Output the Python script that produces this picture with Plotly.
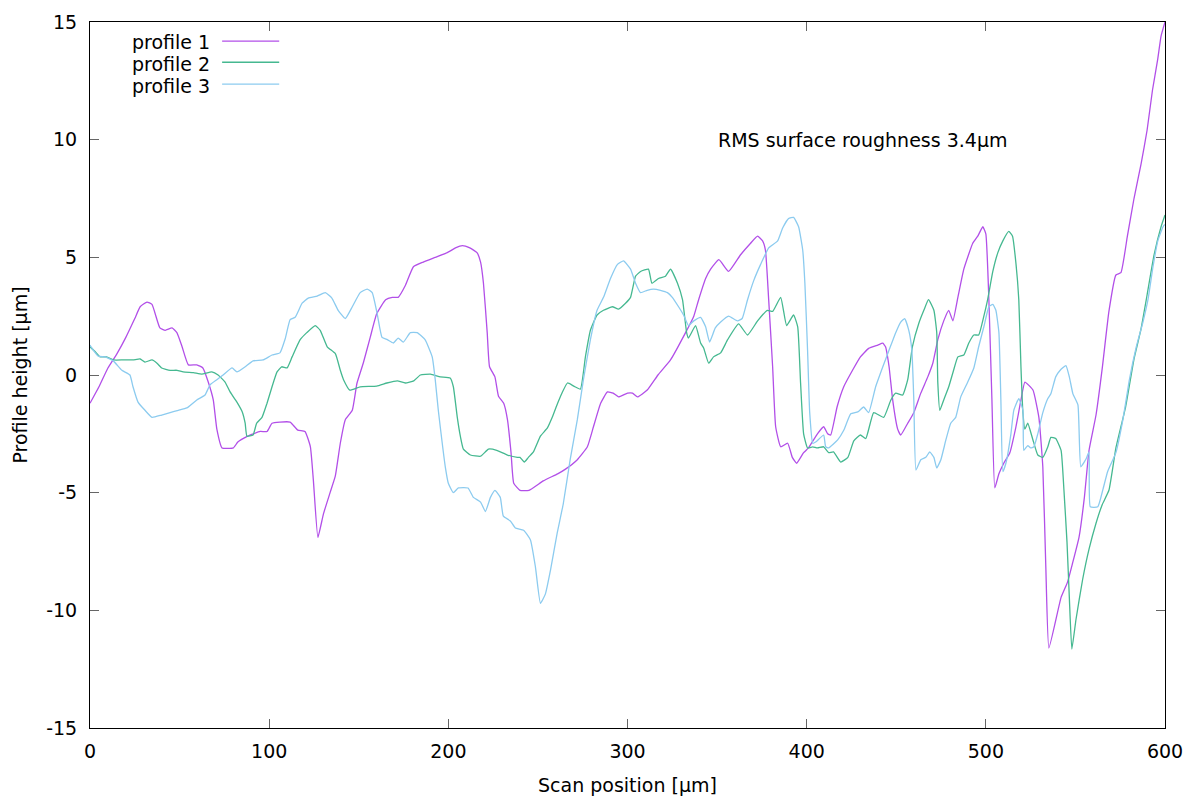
import plotly.graph_objects as go

# ---- data ----
profile1 = [(0,-1.2),(5,-0.5),(10,0.3),(15,0.9),(20,1.6),(25,2.4),(28,2.9),(31.8,3.1),(34.6,3.0),(39,2.0),
            (42,1.9),(45.8,2.0),(48.5,1.8),(51.4,1.2),(54.9,0.43),(59.6,0.43),(63,0.3),(66,-0.3),(68.8,-1.06),
            (70.8,-2.3),(73.7,-3.1),(80,-3.1),(82.5,-2.85),(88,-2.6),(95,-2.4),(98.8,-2.4),(101.6,-2.05),
            (106,-2.0),(111.7,-2.0),(116,-2.34),(120,-2.4),(123,-3.05),(124.7,-4.5),(127.2,-6.9),(130.3,-5.9),
            (134,-5.0),(136.9,-4.3),(139.7,-2.9),(142.5,-1.9),(146.4,-1.5),(149,-0.35),(152.5,0.5),(156.4,1.6),
            (160,2.6),(165,3.2),(168.7,3.3),(172,3.3),(176,3.8),(180.5,4.6),(186,4.8),(192.7,5.0),(199.4,5.2),
            (204,5.4),(207.8,5.5),(212,5.4),(216,5.2),(218,4.8),(219.6,3.9),(221.7,1.8),(223,0.35),(226,-0.08),
            (228,-0.9),(230.9,-1.2),(233,-1.9),(235,-3.3),(236.5,-4.6),(240,-4.9),(245,-4.9),(253,-4.5),
            (261,-4.2),(265.4,-4.0),(272,-3.6),(277.6,-3.05),(281,-2.2),(285,-1.2),(288.8,-0.72),(292,-0.77),
            (295,-0.93),(300,-0.77),(302.8,-0.77),(305.6,-0.93),(311,-0.64),(317,0.0),(324,0.64),(332.4,1.8),
            (337,2.5),(339.7,3.2),(343.6,4.1),(346.4,4.5),(351,4.9),(356.4,4.4),(363,5.1),(368.7,5.6),
            (372.6,5.9),(375.4,5.7),(377,5.3),(378.8,3.2),(381,0.35),(382.7,-2.2),(385.5,-3.05),(389.4,-2.9),
            (392,-3.5),(394.4,-3.75),(398.3,-3.3),(401,-3.1),(406,-2.5),(409.5,-2.2),(411.7,-2.5),(413.4,-2.55),
            (417,-1.35),(420.7,-0.5),(425.6,0.2),(430,0.77),(434.6,1.13),(439.7,1.27),(442.5,1.35),(444,1.2),
            (446,0.35),(448,-1.06),(450.8,-2.3),(452.5,-2.55),(456.4,-2.05),(459.8,-1.6),(463.7,-0.77),
            (467.6,-0.08),(470.4,0.5),(473.2,1.5),(476.5,2.3),(479.3,2.75),(481.6,2.3),(484.4,3.3),(487.7,4.5),
            (492.7,5.6),(495.5,5.9),(498.3,6.3),(500,6.0),(501.7,3.2),(503.4,-1.06),(505,-4.8),(507.3,-4.2),
            (510,-3.75),(513.4,-3.3),(516.8,-2.2),(519.6,-1.06),(521.8,-0.3),(526.3,-0.64),(529.6,-1.8),
            (531.8,-3.9),(533.5,-8.2),(535.2,-11.6),(542,-9.45),(545.6,-8.8),(548.4,-8.0),(552,-6.9),(555,-5.2),
            (557.6,-3.2),(561.5,-1.7),(565,0.3),(568.7,2.7),(572.6,4.25),(575.4,4.35),(579,5.9),(582.7,7.5),
            (586.6,8.95),(590,10.4),(593,12.1),(595.9,13.4),(597.8,14.4),(600,15.0)]

profile2 = [(0,1.2),(2.8,1.0),(5.6,0.77),(9.3,0.77),(13,0.64),(18.6,0.64),(24,0.64),(28,0.68),(30.7,0.55),
            (34.6,0.64),(37.4,0.5),(40,0.3),(44.7,0.2),(48.6,0.2),(52,0.13),(57.7,0.1),(62.4,0.04),(68,0.13),
            (71.5,0),(75.4,-0.3),(78.2,-0.72),(82,-1.15),(85,-1.57),(86.6,-2.05),(87.6,-2.6),(91,-2.55),
            (93,-2.05),(96,-1.8),(98.8,-1.2),(101.6,-0.5),(104.4,0.13),(107,0.35),(110,0.3),(112.8,0.77),
            (117.3,1.5),(121,1.8),(125.7,2.1),(128.5,1.9),(132.4,1.2),(137,0.9),(139.7,0.2),(141.5,-0.2),
            (145,-0.64),(150.8,-0.5),(160,-0.47),(165.7,-0.34),(171.5,-0.25),(176,-0.34),(180.7,-0.25),
            (184.4,0),(190,0.04),(195.5,-0.08),(201,-0.13),(202.8,-0.5),(205,-1.8),(206.7,-2.6),(208.4,-3.15),
            (212.3,-3.4),(218,-3.45),(222.4,-3.15),(227,-3.2),(233,-3.4),(238.5,-3.5),(240,-3.5),(242.4,-3.7),
            (244.7,-3.5),(247.5,-3.27),(251.4,-2.6),(255.3,-2.25),(258,-1.8),(261,-1.2),(263.7,-0.72),
            (266.5,-0.34),(270,-0.47),(273.7,-0.6),(276.5,0.77),(279.3,1.9),(283,2.55),(286.6,2.75),
            (291.6,2.9),(295,2.8),(298.9,3.05),(301.7,3.3),(304.5,4.2),(307.3,4.4),(311.7,4.5),(313.6,3.9),
            (317.3,4.1),(321.2,4.2),(324,4.5),(327.9,3.9),(330.7,3.2),(333,1.8),(334,1.57),(338,2.1),
            (340.8,1.36),(342.5,1.15),(345.3,0.5),(348,0.77),(352,0.94),(355.9,1.5),(362,2.17),(367,1.7),
            (372.6,2.3),(378,2.75),(381,2.7),(385.5,3.3),(388.8,2.1),(392.7,2.55),(395,2.05),(396.6,-0.34),
            (398.3,-2.5),(400.5,-3.1),(403.4,-3.05),(406,-3.1),(409.5,-3.05),(412.3,-3.3),(415,-3.27),
            (419,-3.7),(423,-3.5),(426.3,-2.8),(430,-2.55),(433,-2.7),(437.4,-1.6),(443,-1.8),(447,-1.06),
            (449.7,-0.77),(453.6,-0.85),(456.4,-0.2),(459,1.2),(462.6,2.2),(465.4,2.75),(468,3.2),(471,2.75),
            (472.6,1.8),(473.2,-0.34),(474.3,-1.5),(476.5,-1.06),(479.3,-0.5),(482,0.2),(484.4,0.77),
            (487.7,0.85),(490.5,1.36),(493.3,1.7),(496,1.7),(498.9,2.5),(501,3.2),(503.9,4.4),(506.7,5.2),
            (509.5,5.7),(512.8,6.1),(514.9,5.9),(516.8,4.75),(518.4,3.2),(519.6,0.35),(520.7,-1.6),
            (521.8,-2.3),(523.4,-2.05),(526.3,-2.76),(529,-3.4),(531.8,-3.5),(534.6,-3.05),(536.3,-2.65),
            (539,-2.7),(542,-3.2),(543.6,-4.9),(545.3,-7.1),(546.6,-9.45),(548,-11.65),(550.3,-10.4),
            (554,-8.7),(557.6,-7.4),(561.5,-6.3),(565,-5.5),(568.7,-4.9),(572.6,-3.1),(578,-1.36),(582.7,0.68),
            (586.6,1.95),(590,3.4),(593.9,5.1),(597.8,6.3),(600,6.8)]

profile3 = [(0,1.27),(1.8,1.06),(4.7,0.8),(8.4,0.77),(13,0.6),(17.8,0.2),(22.3,0),(24,-0.5),(26.8,-1.15),
            (30.7,-1.5),(34.6,-1.8),(40,-1.7),(44.7,-1.6),(49.3,-1.5),(54,-1.4),(59.6,-1.06),(64.2,-0.85),
            (67,-0.42),(70.8,-0.2),(74.3,0),(79.3,0.3),(82,0.13),(86.6,0.35),(91,0.6),(96.6,0.64),(101.6,0.85),
            (106,0.94),(109,1.55),(111.7,2.35),(114.5,2.45),(118.4,3.05),(121.8,3.27),(126.8,3.35),(131.3,3.5),
            (135,3.27),(138.5,2.75),(142.5,2.4),(146.4,2.9),(150.8,3.5),(154.7,3.65),(157.5,3.5),(160.3,2.6),
            (163,1.6),(165.9,1.5),(169.3,1.36),(172,1.57),(174.9,1.4),(178.8,1.8),(182.6,1.8),(187,1.5),
            (191,0.77),(192.7,-0.2),(194.4,-1.5),(196.6,-2.9),(198.3,-3.9),(200,-4.6),(202.8,-5.0),
            (205.6,-4.8),(211,-4.8),(214,-5.2),(218,-5.4),(220.7,-5.8),(223.5,-5.2),(226,-4.9),(229,-5.2),
            (230.7,-6.0),(234.6,-6.2),(237.4,-6.5),(242,-6.6),(245.8,-7.0),(248.6,-8.15),(251.4,-9.7),
            (254.2,-9.3),(257,-8.3),(260.8,-6.7),(264.2,-5.45),(268,-3.6),(272,-1.9),(275.4,-0.2),(279.3,1.5),
            (283,2.75),(286.6,3.3),(290.5,4.1),(294.4,4.7),(297.8,4.85),(301.7,4.5),(304.5,3.9),(307.3,3.5),
            (311,3.6),(314.5,3.65),(318.4,3.6),(322.3,3.5),(325,3.3),(328.5,2.9),(331.3,2.55),(334,2.1),
            (337,2.3),(340.8,2.45),(343.6,2.05),(345.8,1.4),(349,2.0),(352,2.25),(356.4,2.5),(361.4,2.3),
            (364,2.4),(367,3.2),(370.4,4.0),(374.3,4.7),(378.8,5.4),(383.8,5.7),(386.6,6.25),(389.9,6.65),
            (392.7,6.7),(395.5,6.3),(397.8,5.3),(399,3.9),(400.5,1.06),(401.7,-1.6),(403.4,-2.9),(405,-2.85),
            (409.5,-2.55),(410.6,-3.05),(412.3,-3.1),(417.3,-2.76),(420.7,-2.35),(424.6,-1.65),(428.5,-1.57),
            (431.8,-1.36),(434.6,-1.6),(438.5,-0.5),(442.5,0.35),(446,1.06),(449.7,1.8),(452.5,2.25),
            (454.7,2.4),(457,1.9),(458.7,1.06),(459.8,-1.06),(461,-4.04),(463.7,-3.6),(466.5,-3.5),
            (468.7,-3.27),(471,-3.5),(472.6,-3.95),(474.9,-3.6),(477.7,-2.76),(480.4,-2.05),(483.2,-1.8),
            (486,-0.93),(489.9,-0.3),(493.3,0.3),(496,1.2),(498.9,2.05),(501.7,2.9),(503.9,3.0),(505.6,2.75),
            (507.3,1.8),(508.4,-1.06),(509.5,-4.1),(511.2,-3.75),(514,-2.5),(515.6,-1.5),(518.4,-1.0),
            (520.7,-1.5),(521.2,-3.2),(523.4,-3.0),(525,-3.1),(526.8,-3.05),(529,-2.5),(531.8,-1.6),
            (534.6,-1.0),(536.3,-0.8),(539,-0.08),(541.5,0.2),(544.7,0.4),(546.6,-0.08),(548.6,-0.8),
            (551.4,-1.27),(553,-3.9),(555.9,-3.57),(557.6,-3.27),(558.3,-5.6),(562.5,-5.6),(565.4,-4.85),
            (568,-4.1),(572.6,-3.3),(576.5,-1.9),(580,-0.25),(584,1.2),(587.7,2.25),(590.5,3.2),(593.3,4.6),
            (596,5.7),(598.9,6.3),(600,6.4)]

series_names = ["profile 1", "profile 2", "profile 3"]
series_colors = ["#b24fe8", "#45b890", "#8ccbef"]
x_ticks = [0, 100, 200, 300, 400, 500, 600]
y_ticks = [-15, -10, -5, 0, 5, 10, 15]
x_title = "Scan position [µm]"
y_title = "Profile height [µm]"
label_text = "RMS surface roughness 3.4µm"
label_pos = (350, 10)

FONT = "DejaVu Sans"
FS = 19

fig = go.Figure()
for name, data, color in zip(series_names, [profile1, profile2, profile3], series_colors):
    xs = [p[0] for p in data]
    ys = [p[1] for p in data]
    fig.add_trace(go.Scatter(x=xs, y=ys, mode="lines", name=name,
                             line=dict(color=color, width=1.3, shape="spline", smoothing=0.4),
                             showlegend=False))

# gnuplot-style key: text right-aligned, sample line to the right
key_rows = [0.973, 0.943, 0.912]
for name, color, yk in zip(series_names, series_colors, key_rows):
    fig.add_annotation(xref="paper", yref="paper", x=0.1117, y=yk - 0.002, text=name, showarrow=False,
                       xanchor="right", yanchor="middle", xshift=2,
                       font=dict(family=FONT, size=FS, color="#000"))
    fig.add_shape(type="line", xref="paper", yref="paper", x0=0.1229, x1=0.176, y0=yk,
                  y1=yk, line=dict(color=color, width=1.3))

fig.add_annotation(x=label_pos[0], y=label_pos[1], text=label_text, showarrow=False,
                   xanchor="left", yanchor="middle", xshift=-1,
                   font=dict(family=FONT, size=FS, color="#000"))

axis_common = dict(showline=True, linecolor="#000", linewidth=1, mirror="ticks", ticks="inside",
                   ticklen=9, tickcolor="#666", tickwidth=1, showgrid=False, zeroline=False,
                   tickfont=dict(family=FONT, size=FS, color="#000"))

fig.update_xaxes(range=[0, 600], tickvals=x_ticks, ticktext=[str(v) for v in x_ticks],
                 title=dict(text=x_title, font=dict(family=FONT, size=FS, color="#000"), standoff=19),
                 ticklabelstandoff=6, **axis_common)
fig.update_yaxes(range=[-15, 15], tickvals=y_ticks, ticktext=[str(v) for v in y_ticks],
                 title=dict(text=y_title, font=dict(family=FONT, size=FS, color="#000"), standoff=13),
                 ticklabelstandoff=8, **axis_common)

fig.update_layout(width=1190, height=796, plot_bgcolor="#fff", paper_bgcolor="#fff",
                  margin=dict(l=90, r=25, t=22, b=68, autoexpand=False),
                  font=dict(family=FONT, size=FS, color="#000"))

fig.write_html("out.html", config={"displayModeBar": False},
               post_script="document.body.style.margin='0';document.body.style.padding='0';")
